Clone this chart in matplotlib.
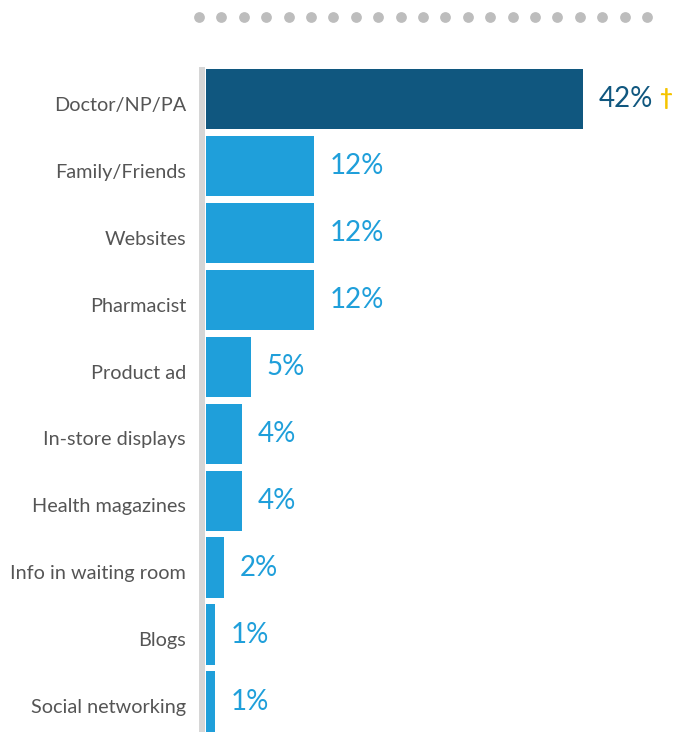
import matplotlib.pyplot as plt

plt.rcParams['font.family'] = ['Lato', 'DejaVu Sans']

sources = ['Doctor/NP/PA', 'Family/Friends', 'Websites', 'Pharmacist', 'Product ad',
           'In-store displays', 'Health magazines', 'Info in waiting room', 'Blogs',
           'Social networking']
shares = [42, 12, 12, 12, 5, 4, 4, 2, 1, 1]

dark_blue = '#10577f'
light_blue = '#1f9fda'
colors = [dark_blue] + [light_blue] * (len(shares) - 1)

W, H = 677, 732
fig = plt.figure(figsize=(W / 100, H / 100), dpi=100)

# bar area: x from 206px to right edge, rows spaced 67px starting at 98.5px
ax = fig.add_axes([206 / W, 0, 1 - 206 / W, (732 - 65.5) / H])
ypos = list(range(len(sources)))
ax.barh(ypos, shares, height=0.9, color=colors, zorder=2)
ax.set_xlim(0, 471 / 8.98)
ax.set_ylim((732 - 98.5) / 67, -0.5)

for s in ['top', 'right', 'bottom']:
    ax.spines[s].set_visible(False)
ax.spines['left'].set_color('#d6d6d6')
ax.spines['left'].set_linewidth(4.3)
ax.spines['left'].set_position(('outward', 3))
ax.spines['left'].set_bounds(-0.44, 9.5)
ax.set_xticks([])
ax.set_yticks([])

# category names, right-aligned left of the axis line, sitting a little low
for i, name in enumerate(sources):
    ax.annotate(name, xy=(0, i), xycoords=('axes fraction', 'data'),
                xytext=(-14.4, -4.5), textcoords='offset points',
                ha='right', va='center', fontsize=14.3, color='#555555')

for i, v in enumerate(shares):
    col = dark_blue if i == 0 else light_blue
    t = ax.annotate(f'{v}%', xy=(v, i), xytext=(11.5, 0), textcoords='offset points',
                    ha='left', va='center', fontsize=20, color=col)
    if i == 0:
        ax.annotate('\u2020', xy=(1, 0.5), xycoords=t, xytext=(4, 0),
                    textcoords='offset points', ha='left', va='center',
                    fontsize=16, fontweight='bold', color='#f5c400')

# dotted divider along the top
dots = fig.add_axes([0, 0.93, 1, 0.07])
dots.scatter([199 + 22.4 * k for k in range(21)], [17] * 21, s=60, color='#bdbdbd',
             linewidths=0)
dots.set_xlim(0, W)
dots.set_ylim(0.07 * H, 0)
dots.axis('off')

fig.savefig('out.png', dpi=100)
